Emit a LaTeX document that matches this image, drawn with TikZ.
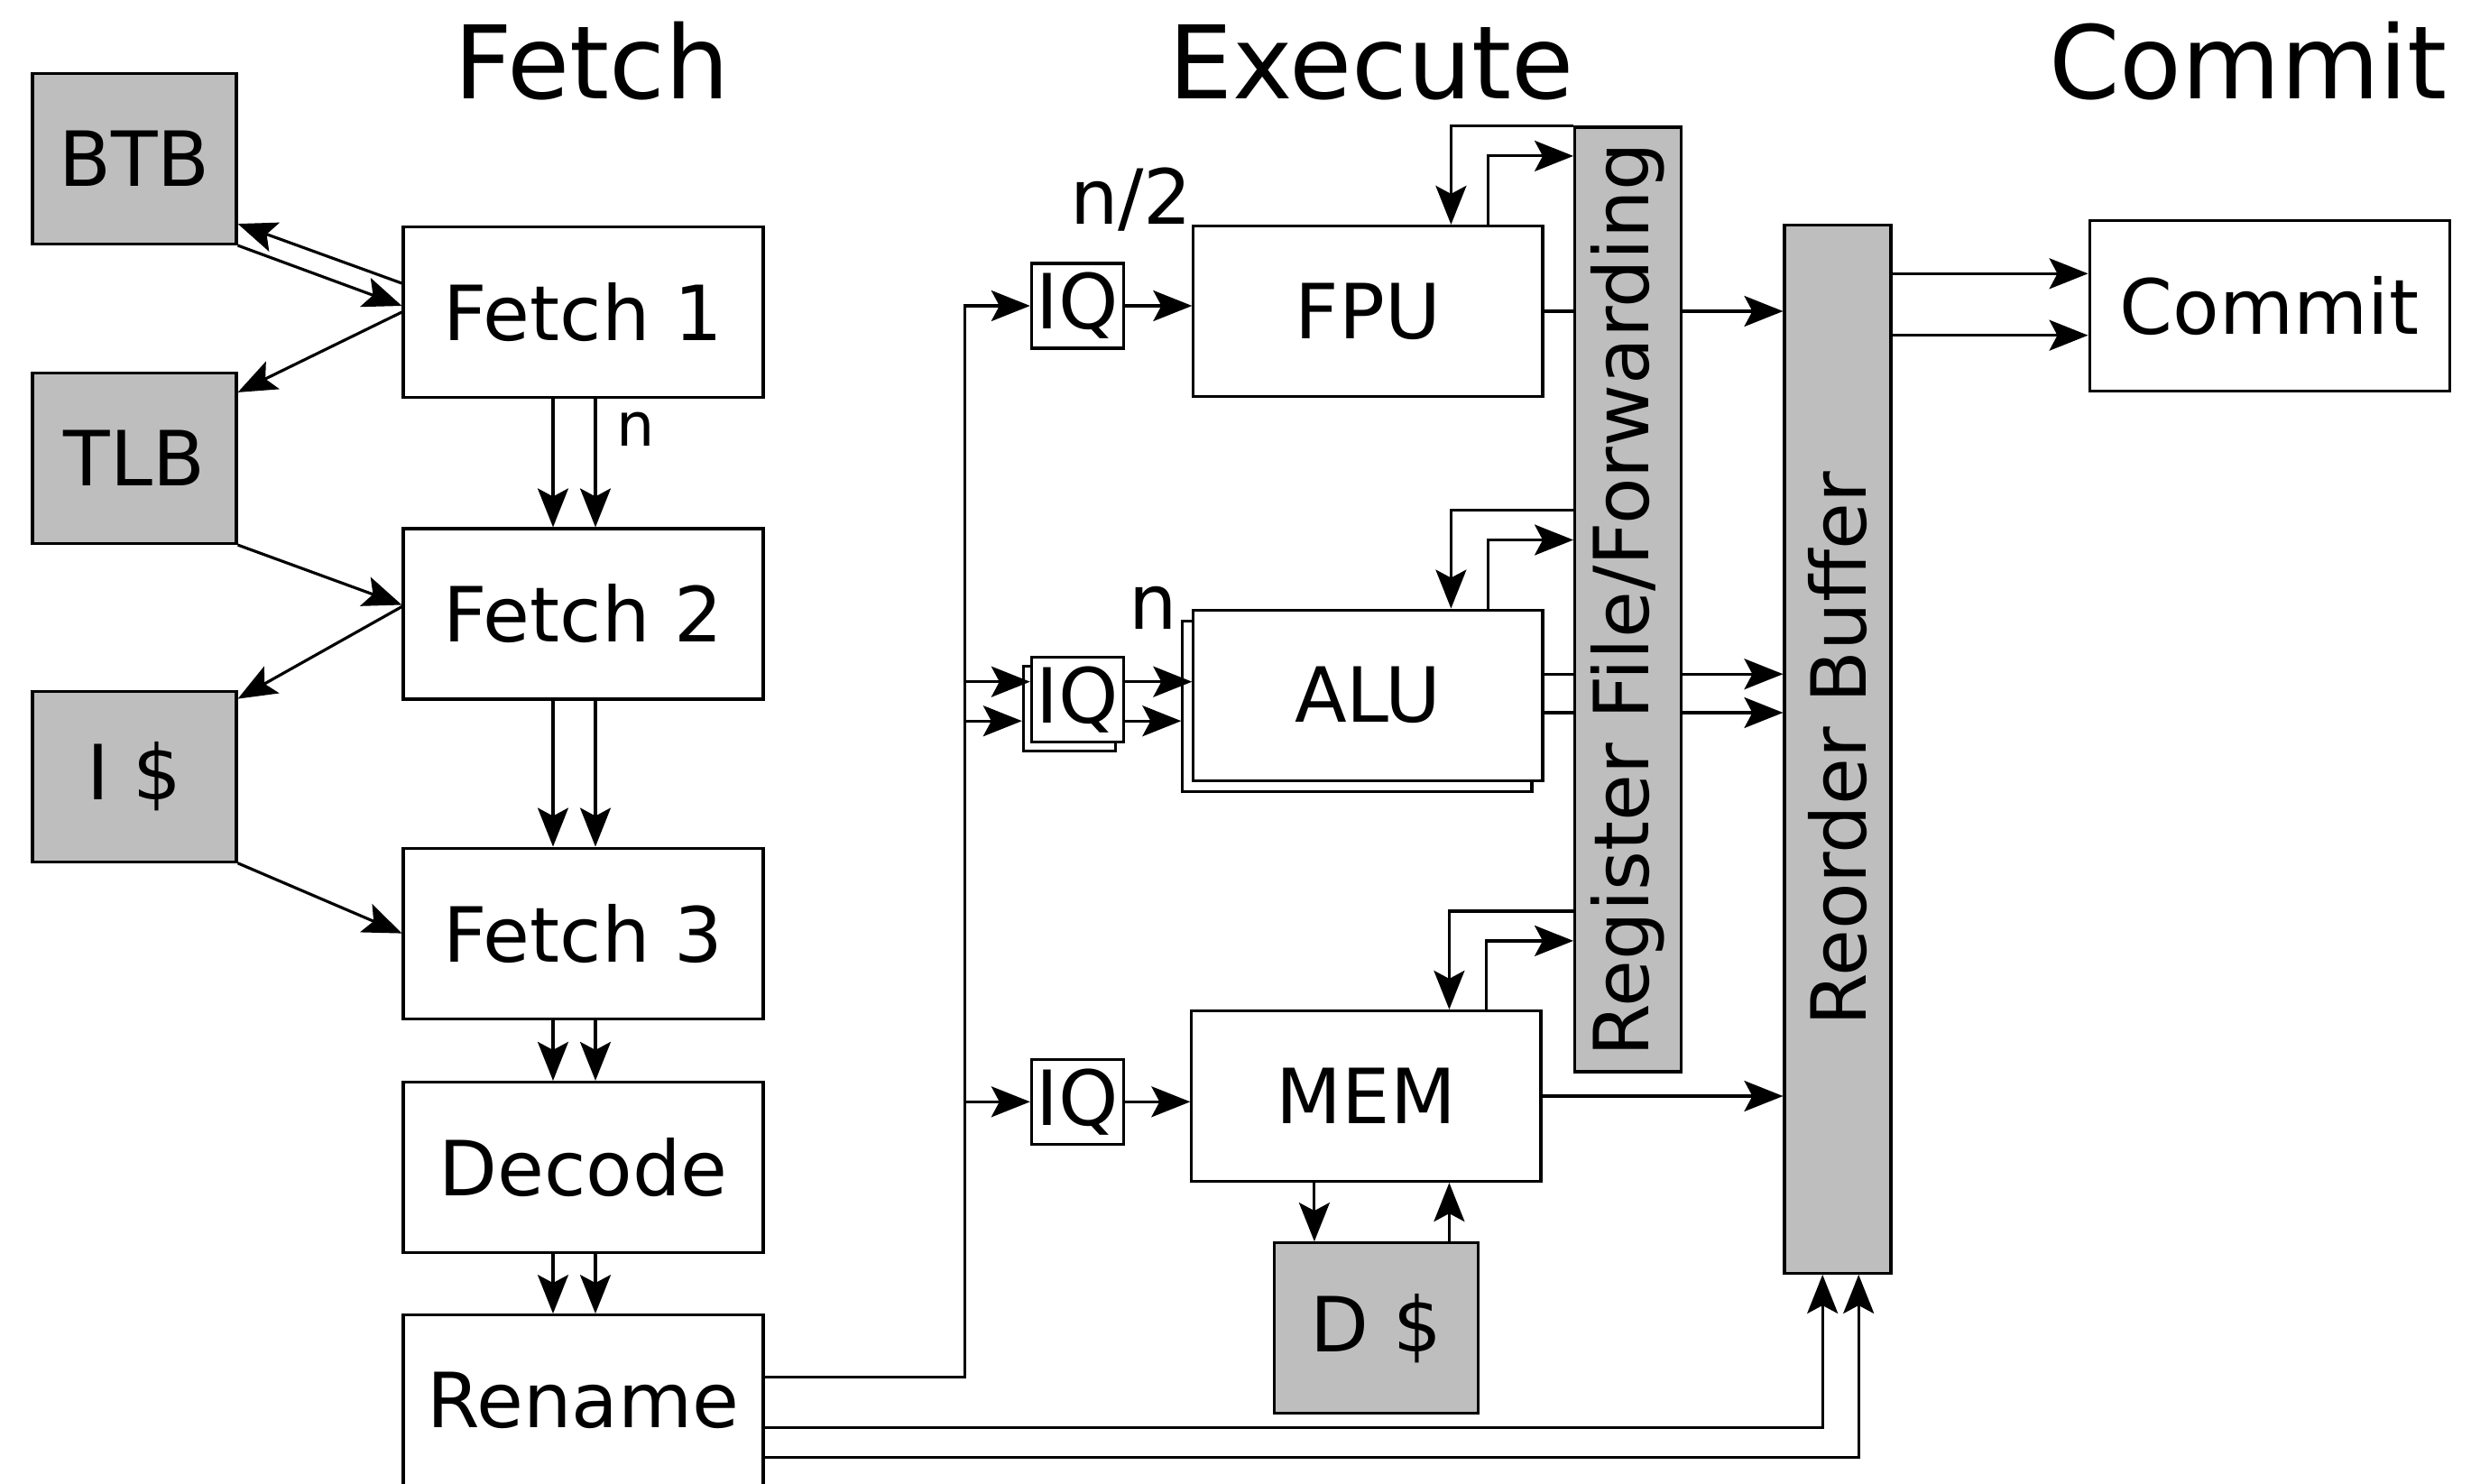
\documentclass[tikz,border=0pt]{standalone}
\usepackage{fontspec}
\setmainfont{DejaVu Sans}
\usetikzlibrary{arrows.meta}
\definecolor{cachegray}{RGB}{190,190,190}
\newcommand{\boxfont}{\fontsize{24}{28}\selectfont}
\newcommand{\titlefont}{\fontsize{32}{38}\selectfont}
\begin{document}
\begin{tikzpicture}[
    line width=0.9pt,
    >={Stealth[length=4.3mm,width=3.4mm,inset=0.9mm]},
    stage/.style={draw, fill=white, inner sep=0, minimum width=3.99cm, minimum height=1.89cm, font=\boxfont},
    cache/.style={stage, fill=cachegray, minimum width=2.26cm},
    unit/.style={stage, minimum width=3.87cm},
    queue/.style={draw, fill=white, inner sep=0, minimum width=1.02cm, minimum height=0.94cm, font=\boxfont},
    bar/.style={draw, fill=cachegray, inner sep=0, minimum width=1.18cm},
    title/.style={anchor=base, font=\titlefont}
  ]
    \useasboundingbox (0,0) rectangle (27.39,16.44);
    % Stage titles
    \node[title] (tfetch) at (6.56,15.34) {Fetch};
    \node[title] (texec) at (15.20,15.34) {Execute};
    \node[title] (tcommit) at (24.92,15.34) {Commit};
    % Front end
    \node[stage] (fetch1) at (6.465,12.98) {Fetch 1};
    \node[stage] (fetch2) at (6.465,9.635) {Fetch 2};
    \node[stage] (fetch3) at (6.465,6.094) {Fetch 3};
    \node[stage] (decode) at (6.465,3.50) {Decode};
    \node[stage] (rename) at (6.465,0.918) {Rename};
    \node[cache] (btb) at (1.49,14.68) {BTB};
    \node[cache] (tlb) at (1.49,11.36) {TLB};
    \node[cache] (icache) at (1.49,7.833) {I \$};
    \node[anchor=base, font=\fontsize{19}{22}\selectfont] (nfetch) at (7.05,11.50) {n};
    % Execution units
    \node[queue] (iqf) at (11.944,13.05) {IQ};
    \node[unit] (fpu) at (15.164,12.99) {FPU};
    \node[queue] (iqashadow) at (11.854,8.583) {};
    \node[queue] (iqa) at (11.944,8.683) {IQ};
    \node[unit] (alushadow) at (15.044,8.614) {};
    \node[unit] (alu) at (15.164,8.734) {ALU};
    \node[queue] (iqm) at (11.944,4.227) {IQ};
    \node[unit] (mem) at (15.144,4.29) {MEM};
    \node[cache] (dcache) at (15.253,1.718) {D \$};
    \node[anchor=base, font=\boxfont] (nfpu) at (12.538,13.95) {n/2};
    \node[anchor=base, font=\boxfont] (nalu) at (12.782,9.47) {n};
    % Register file and reorder buffer
    \node[bar, minimum height=10.47cm] (regfile) at (18.046,9.795) {};
    \node[rotate=90, font=\boxfont] at (regfile.center) {Register File/Forwarding};
    \node[bar, minimum height=11.62cm] (rob) at (20.37,8.136) {};
    \node[rotate=90, font=\boxfont] at (rob.center) {Reorder Buffer};
    \node[stage] (commit) at (25.156,13.05) {Commit};

    % Fetch <-> caches
    \draw[->] ([yshift=0.32cm]fetch1.west) -- ([yshift=0.24cm]btb.south east);
    \draw[->] (btb.south east) -- ([yshift=0.07cm]fetch1.west);
    \draw[->] (fetch1.west) -- ([yshift=-0.23cm]tlb.north east);
    \draw[->] (tlb.south east) -- ([yshift=0.1cm]fetch2.west);
    \draw[->] ([yshift=0.08cm]fetch2.west) -- ([yshift=-0.1cm]icache.north east);
    \draw[->] (icache.south east) -- (fetch3.west);
    \foreach \a/\b in {fetch1/fetch2, fetch2/fetch3, fetch3/decode, decode/rename}
      \foreach \dx in {-0.335,0.135}
        \draw[->] ([xshift=\dx cm]\a.south) -- ([xshift=\dx cm]\b.north);

    % Rename to issue queues
    \coordinate (bus) at (10.696,0);
    \draw[->] ([yshift=0.257cm]rename.east) -| (bus |- iqf.west) -- (iqf.west);
    \draw[->] ([yshift=0.2cm]iqa.west -| bus) -- ([yshift=0.2cm]iqa.west);
    \draw[->] ([yshift=-0.235cm]iqa.west -| bus) -- ([yshift=-0.235cm]iqa.west -| iqashadow.west);
    \draw[->] (iqm.west -| bus) -- (iqm.west);
    \draw[->] (iqf.east) -- (iqf.east -| fpu.west);
    \draw[->] ([yshift=0.2cm]iqa.east) -- ([yshift=0.2cm]iqa.east -| alu.west);
    \draw[->] ([yshift=-0.235cm]iqa.east) -- ([yshift=-0.235cm]iqa.east -| alushadow.west);
    \draw[->] (iqm.east) -- (iqm.east -| mem.west);

    % Operands and results through the register file
    \foreach \u in {fpu, alu, mem} {
      \draw[->] ([yshift=1.09cm]\u.north -| regfile.west) -| ([xshift=0.92cm]\u.north);
      \draw[->] ([xshift=1.33cm]\u.north) |- ([yshift=0.76cm]\u.north -| regfile.west);
    }
    \draw[->] ([xshift=-0.575cm]mem.south) -- ([xshift=-0.575cm]mem.south |- dcache.north);
    \draw[->] ([xshift=0.92cm]mem.south |- dcache.north) -- ([xshift=0.92cm]mem.south);

    % Results to the reorder buffer
    \draw (fpu.east) -- (fpu.east -| regfile.west);
    \draw[->] (fpu.east -| regfile.east) -- (fpu.east -| rob.west);
    \foreach \dy in {0.234,-0.194} {
      \draw ([yshift=\dy cm]alu.east) -- ([yshift=\dy cm]alu.east -| regfile.west);
      \draw[->] ([yshift=\dy cm]alu.east -| regfile.east) -- ([yshift=\dy cm]alu.east -| rob.west);
    }
    \draw[->] (mem.east) -- (mem.east -| rob.west);
    \draw[->] ([yshift=-0.299cm]rename.east) -| ([xshift=-0.168cm]rob.south);
    \draw[->] ([yshift=-0.633cm]rename.east) -| ([xshift=0.232cm]rob.south);

    % Commit
    \draw[->] ([yshift=0.357cm]commit.west -| rob.east) -- ([yshift=0.357cm]commit.west);
    \draw[->] ([yshift=-0.327cm]commit.west -| rob.east) -- ([yshift=-0.327cm]commit.west);
\end{tikzpicture}
\end{document}
